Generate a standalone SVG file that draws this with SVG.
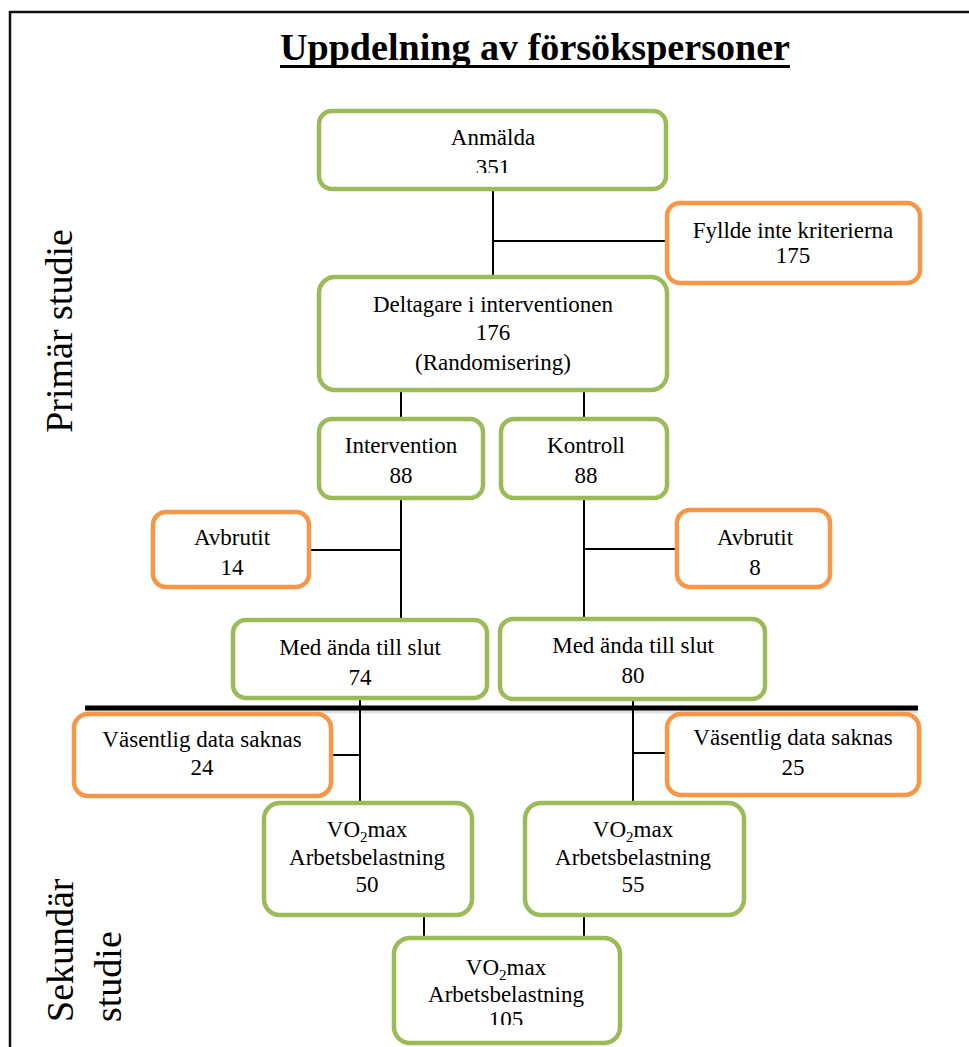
<svg xmlns="http://www.w3.org/2000/svg" width="969" height="1047" viewBox="0 0 969 1047">
  <style>
    .node-g { fill: #ffffff; stroke: #9BBB59; stroke-width: 4.5; }
    .node-o { fill: #ffffff; stroke: #F79646; stroke-width: 4.5; }
    text { font-family: "Liberation Serif", "Times New Roman", serif; fill: #000000; }
    .lbl { font-size: 23px; text-anchor: middle; }
    .side { font-size: 38px; }
    .title { font-size: 38px; font-weight: bold; text-anchor: middle; }
    .conn { stroke: #000000; stroke-width: 2; fill: none; }
    .sub { font-size: 15px; }
  </style>
  <defs>
    <clipPath id="clip-anmalda"><rect x="300" y="100" width="400" height="73"/></clipPath>
    <clipPath id="clip-total"><rect x="380" y="930" width="260" height="95"/></clipPath>
  </defs>

  <rect x="0" y="0" width="969" height="1047" fill="#ffffff"/>

  <!-- page frame -->
  <g id="frame">
    <line x1="9" y1="12" x2="969" y2="12" stroke="#111" stroke-width="2.5"/>
    <line x1="10" y1="11" x2="10" y2="1047" stroke="#111" stroke-width="2.5"/>
  </g>

  <g font-family="Liberation Serif, Times New Roman, serif">
  <!-- title -->
  <g id="title">
    <text class="title" x="535" y="60" textLength="510" lengthAdjust="spacingAndGlyphs">Uppdelning av försökspersoner</text>
    <line x1="280" y1="66.5" x2="790" y2="66.5" stroke="#000" stroke-width="3"/>
  </g>

  <!-- side labels -->
  <g id="side-labels">
    <text class="side" transform="translate(72,331) rotate(-90)" text-anchor="middle">Primär studie</text>
    <text class="side" transform="translate(73,1022) rotate(-90)">Sekundär</text>
    <text class="side" transform="translate(121,1022) rotate(-90)">studie</text>
  </g>

  <!-- study divider -->
  <g id="divider">
    <line x1="86" y1="711" x2="918" y2="711" stroke="#000" stroke-opacity="0.12" stroke-width="5"/>
    <line x1="85" y1="708" x2="918" y2="708" stroke="#000" stroke-width="5"/>
  </g>

  <!-- connectors -->
  <g id="connectors">
    <line class="conn" x1="493" y1="189" x2="493" y2="277"/>
    <line class="conn" x1="493" y1="241" x2="667" y2="241"/>
    <line class="conn" x1="401" y1="390" x2="401" y2="419"/>
    <line class="conn" x1="584" y1="390" x2="584" y2="419"/>
    <line class="conn" x1="401" y1="498" x2="401" y2="620"/>
    <line class="conn" x1="309" y1="550" x2="401" y2="550"/>
    <line class="conn" x1="584" y1="498" x2="584" y2="619"/>
    <line class="conn" x1="584" y1="549" x2="677" y2="549"/>
    <line class="conn" x1="360" y1="700" x2="360" y2="803"/>
    <line class="conn" x1="331" y1="755" x2="360" y2="755"/>
    <line class="conn" x1="633" y1="700" x2="633" y2="803"/>
    <line class="conn" x1="633" y1="753" x2="667" y2="753"/>
    <line class="conn" x1="424" y1="916" x2="424" y2="938"/>
    <line class="conn" x1="584" y1="916" x2="584" y2="938"/>
  </g>

  <g id="node-anmalda">
    <rect class="node-g" x="319" y="111" width="347" height="78" rx="13"/>
    <text class="lbl" x="493" y="145">Anmälda</text>
    <text class="lbl" x="493" y="175" clip-path="url(#clip-anmalda)">351</text>
  </g>

  <g id="node-fyllde-inte">
    <rect class="node-o" x="667" y="203" width="253" height="80" rx="13"/>
    <text class="lbl" x="793" y="238">Fyllde inte kriterierna</text>
    <text class="lbl" x="793" y="263">175</text>
  </g>

  <g id="node-deltagare">
    <rect class="node-g" x="319" y="277" width="348" height="113" rx="16"/>
    <text class="lbl" x="493" y="312">Deltagare i interventionen</text>
    <text class="lbl" x="493" y="340">176</text>
    <text class="lbl" x="493" y="370">(Randomisering)</text>
  </g>

  <g id="node-intervention">
    <rect class="node-g" x="319" y="419" width="164" height="79" rx="13"/>
    <text class="lbl" x="401" y="453">Intervention</text>
    <text class="lbl" x="401" y="483">88</text>
  </g>

  <g id="node-kontroll">
    <rect class="node-g" x="501" y="419" width="166" height="79" rx="13"/>
    <text class="lbl" x="586" y="453">Kontroll</text>
    <text class="lbl" x="586" y="483">88</text>
  </g>

  <g id="node-avbrutit-14">
    <rect class="node-o" x="153" y="512" width="156" height="75" rx="13"/>
    <text class="lbl" x="232" y="545">Avbrutit</text>
    <text class="lbl" x="232" y="575">14</text>
  </g>

  <g id="node-avbrutit-8">
    <rect class="node-o" x="677" y="510" width="153" height="77" rx="13"/>
    <text class="lbl" x="755" y="545">Avbrutit</text>
    <text class="lbl" x="755" y="575">8</text>
  </g>

  <g id="node-med-74">
    <rect class="node-g" x="233" y="620" width="254" height="78" rx="13"/>
    <text class="lbl" x="360" y="655">Med ända till slut</text>
    <text class="lbl" x="360" y="685">74</text>
  </g>

  <g id="node-med-80">
    <rect class="node-g" x="500" y="619" width="265" height="80" rx="13"/>
    <text class="lbl" x="633" y="653">Med ända till slut</text>
    <text class="lbl" x="633" y="683">80</text>
  </g>

  <g id="node-saknas-24">
    <rect class="node-o" x="74" y="714" width="257" height="82" rx="14"/>
    <text class="lbl" x="202" y="747">Väsentlig data saknas</text>
    <text class="lbl" x="202" y="775">24</text>
  </g>

  <g id="node-saknas-25">
    <rect class="node-o" x="667" y="714" width="252" height="81" rx="14"/>
    <text class="lbl" x="793" y="745">Väsentlig data saknas</text>
    <text class="lbl" x="793" y="775">25</text>
  </g>

  <g id="node-vo2-50">
    <rect class="node-g" x="264" y="803" width="208" height="112" rx="16"/>
    <text class="lbl" x="367" y="837">VO<tspan class="sub" dy="5">2</tspan><tspan dy="-5">max</tspan></text>
    <text class="lbl" x="367" y="865">Arbetsbelastning</text>
    <text class="lbl" x="367" y="892">50</text>
  </g>

  <g id="node-vo2-55">
    <rect class="node-g" x="525" y="803" width="219" height="112" rx="16"/>
    <text class="lbl" x="633" y="837">VO<tspan class="sub" dy="5">2</tspan><tspan dy="-5">max</tspan></text>
    <text class="lbl" x="633" y="865">Arbetsbelastning</text>
    <text class="lbl" x="633" y="892">55</text>
  </g>

  <g id="node-vo2-105">
    <rect class="node-g" x="394" y="938" width="226" height="105" rx="16"/>
    <text class="lbl" x="506" y="975">VO<tspan class="sub" dy="5">2</tspan><tspan dy="-5">max</tspan></text>
    <text class="lbl" x="506" y="1002">Arbetsbelastning</text>
    <text class="lbl" x="506" y="1027" clip-path="url(#clip-total)">105</text>
  </g>
  </g>
</svg>
